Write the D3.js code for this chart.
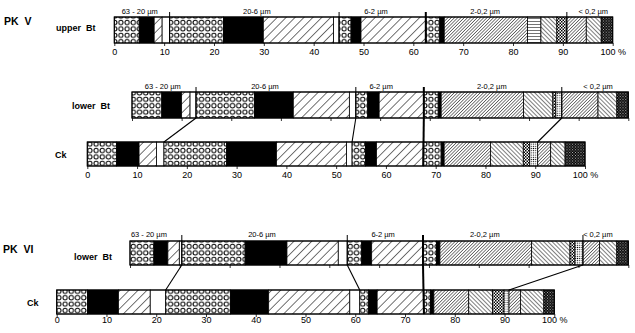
<!DOCTYPE html>
<html>
<head>
<meta charset="utf-8">
<script src="https://d3js.org/d3.v7.min.js"></script>
<style>
body { margin: 0; background: #fff; }
text { font-family: "Liberation Sans", Arial, sans-serif; white-space: pre; }
</style>
</head>
<body>
<script>
// size fractions shown above the bars
const fractions = ["63 - 20 µm", "20-6 µm", "6-2 µm", "2-0,2 µm", "< 0,2 µm"];
// indices of the segments that close a fraction
const fractionEnds = [3, 7, 10, 16];
const tickValues = [0, 10, 20, 30, 40, 50, 60, 70, 80, 90, 100];

// fill of each segment, left to right
const fillsUpperBt = ["circles", "black", "sparse", "white", "circles", "black", "sparse", "white",
    "circles", "black", "sparse", "circles", "black", "dense", "horiz", "back", "checker", "dense", "back", "cross"];
const fillsOther = ["circles", "black", "sparse", "white", "circles", "black", "sparse", "white",
    "circles", "black", "sparse", "circles", "black", "dense", "back", "checker", "dots", "dense", "back", "cross"];

// cumulative % at the right end of every segment
const pkVUpperBt = [5, 8, 9.6, 11.1, 21.9, 29.9, 44, 45.1, 47.5, 49.5, 62.5, 65.3, 66.2, 82.9, 85.6, 88.8, 90.8, 94.7, 97.7, 100];
const pkVLowerBt = [6, 10, 11.7, 12.9, 24.7, 32.5, 43.8, 45.1, 47.5, 49.8, 58.8, 61.7, 62.3, 78.9, 84.8, 85.4, 86.6, 93.9, 97.7, 100];
const pkVCk = [5.9, 10.4, 13.9, 15.4, 28, 38, 52.1, 53.2, 55.9, 58.1, 67.5, 71.1, 71.7, 81, 87.6, 88.9, 90.5, 93.1, 96, 100];
const pkVILowerBt = [4.8, 7.6, 9.9, 10.4, 23.1, 31.5, 41.8, 43.6, 46.5, 48.5, 58.8, 61.5, 62.2, 80.6, 88.3, 89.3, 90.9, 94.2, 97.7, 100];
const pkVICk = [6.2, 12.4, 18.8, 21.9, 34.9, 42.6, 58.9, 60.9, 62.7, 64.4, 73.8, 75.1, 75.8, 82.8, 87.6, 89.9, 90.9, 93.2, 97.9, 100];

let width = 635, height = 333;
let svg = d3.select("body").append("svg").attr("width", width).attr("height", height);
let defs = svg.append("defs");

function hatch(id, size, angle, sw) {
    let p = defs.append("pattern").attr("id", id).attr("patternUnits", "userSpaceOnUse")
        .attr("width", size).attr("height", size).attr("patternTransform", "rotate(" + angle + ")");
    p.append("rect").attr("width", size).attr("height", size).attr("fill", "#fff");
    p.append("line").attr("x1", 0).attr("y1", 0).attr("x2", 0).attr("y2", size)
        .attr("stroke", "#000").attr("stroke-width", sw);
}
hatch("sparse", 6.3, 45, 1.1);
hatch("dense", 2.3, 45, 1);
hatch("back", 3, -45, 1);
hatch("horiz", 3, 90, 1.1);

let pc = defs.append("pattern").attr("id", "circles").attr("patternUnits", "userSpaceOnUse")
    .attr("width", 6.2).attr("height", 6.4);
pc.append("rect").attr("width", 6.2).attr("height", 6.4).attr("fill", "#fff");
pc.append("circle").attr("cx", 3.1).attr("cy", 3.3).attr("r", 2.2)
    .attr("fill", "none").attr("stroke", "#000").attr("stroke-width", 1);

let pk = defs.append("pattern").attr("id", "checker").attr("patternUnits", "userSpaceOnUse")
    .attr("width", 3).attr("height", 3);
pk.append("rect").attr("width", 3).attr("height", 3).attr("fill", "#fff");
pk.append("rect").attr("width", 1.5).attr("height", 1.5).attr("fill", "#000");
pk.append("rect").attr("x", 1.5).attr("y", 1.5).attr("width", 1.5).attr("height", 1.5).attr("fill", "#000");

let pd = defs.append("pattern").attr("id", "dots").attr("patternUnits", "userSpaceOnUse")
    .attr("width", 2.2).attr("height", 2.2);
pd.append("rect").attr("width", 2.2).attr("height", 2.2).attr("fill", "#fff");
pd.append("circle").attr("cx", 1.1).attr("cy", 1.1).attr("r", 0.6).attr("fill", "#000");

let px = defs.append("pattern").attr("id", "cross").attr("patternUnits", "userSpaceOnUse")
    .attr("width", 2.8).attr("height", 2.8);
px.append("rect").attr("width", 2.8).attr("height", 2.8).attr("fill", "#fff");
px.append("circle").attr("cx", 1.4).attr("cy", 1.4).attr("r", 1)
    .attr("fill", "none").attr("stroke", "#000").attr("stroke-width", 1);

function fillOf(f) {
    if (f == "black") return "#000";
    if (f == "white") return "#fff";
    return "url(#" + f + ")";
}

// draws one bar; returns its scale and geometry
function drawBar(ends, fills, pos) {
    let x = d3.scaleLinear().domain([0, 100]).range([pos.x0, pos.x1]);
    let segs = ends.map((e, i) => ({start: i ? ends[i - 1] : 0, end: e, fill: fills[i]}));
    let g = svg.append("g");
    g.selectAll("rect").data(segs).enter().append("rect")
        .attr("x", d => x(d.start))
        .attr("y", pos.y)
        .attr("width", d => x(d.end) - x(d.start))
        .attr("height", pos.h)
        .attr("fill", d => fillOf(d.fill))
        .attr("stroke", "#000")
        .attr("stroke-width", 0.8);
    g.append("rect").attr("x", pos.x0).attr("y", pos.y).attr("width", pos.x1 - pos.x0).attr("height", pos.h)
        .attr("fill", "none").attr("stroke", "#000").attr("stroke-width", 1.1);

    let axis = d3.axisBottom(x).tickValues(tickValues).tickSize(3).tickPadding(pos.pad == null ? 3 : pos.pad)
        .tickFormat(d => pos.labels ? (d == 100 ? "100 %" : d) : "");
    let ag = svg.append("g").attr("transform", "translate(0," + (pos.y + pos.h) + ")").call(axis);
    ag.select(".domain").remove();
    ag.selectAll("line").attr("stroke", "#000").attr("stroke-width", 0.8);
    ag.selectAll("text").attr("font-size", 9).attr("fill", "#000")
        .attr("font-family", "'Liberation Sans', Arial, sans-serif");

    if (pos.headers) {
        svg.append("g").selectAll("text").data(fractions).enter().append("text")
            .attr("x", (d, i) => x(pos.headers[i]))
            .attr("y", pos.headerY)
            .attr("text-anchor", "middle")
            .attr("font-size", 7.5)
            .text(d => d);
        // fraction borders rising above the bar
        svg.append("g").selectAll("line").data(fractionEnds).enter().append("line")
            .attr("x1", i => x(ends[i])).attr("x2", i => x(ends[i]))
            .attr("y1", pos.y - pos.rise).attr("y2", pos.y + pos.h)
            .attr("stroke", "#000")
            .attr("stroke-width", (i, k) => k == 2 ? 2 : 1);
    }
    return {x: x, ends: ends, pos: pos};
}

// fraction borders of the lower Bt joined to those of the Ck
function connect(a, b) {
    svg.append("g").selectAll("path").data(fractionEnds).enter().append("path")
        .attr("d", (i, k) => {
            let xa = a.x(a.ends[i]), xb = b.x(b.ends[i]);
            let ya = a.pos.y + a.pos.h, yb = b.pos.y;
            if (k == 2) return "M" + xa + "," + ya + "L" + xb + "," + (yb + b.pos.h);
            return "M" + xa + "," + ya + "L" + xb + "," + yb;
        })
        .attr("fill", "none")
        .attr("stroke", "#000")
        .attr("stroke-width", (i, k) => k == 2 ? 2 : 1.1);
}

let b1 = drawBar(pkVUpperBt, fillsUpperBt, {x0: 114.3, x1: 612.7, y: 17, h: 26, labels: true,
    headers: [5.1, 28.6, 52.5, 74.4, 96.1], headerY: 14, rise: 5});
let b2 = drawBar(pkVLowerBt, fillsOther, {x0: 132, x1: 628.3, y: 92, h: 26, labels: false,
    headers: [6.2, 26.8, 50.2, 72.5, 93.9], headerY: 89, rise: 5});
let b3 = drawBar(pkVCk, fillsOther, {x0: 87.3, x1: 585, y: 142, h: 24, labels: true});
let b4 = drawBar(pkVILowerBt, fillsOther, {x0: 130, x1: 628.3, y: 241, h: 24, labels: false,
    headers: [3.8, 26.5, 50.8, 71.2, 93.9], headerY: 237, rise: 6});
let b5 = drawBar(pkVICk, fillsOther, {x0: 56.7, x1: 554.3, y: 290, h: 24, labels: true, pad: 0});
connect(b2, b3);
connect(b4, b5);

// row titles
let titles = [
    {t: "PK  V", x: 4, y: 25, s: 10.5},
    {t: "upper  Bt", x: 56, y: 31, s: 9},
    {t: "lower  Bt", x: 72, y: 109, s: 9},
    {t: "Ck", x: 55, y: 158, s: 9},
    {t: "PK  VI", x: 3, y: 253, s: 10.5},
    {t: "lower  Bt", x: 74, y: 260, s: 9},
    {t: "Ck", x: 27, y: 306, s: 9}
];
svg.append("g").selectAll("text").data(titles).enter().append("text")
    .attr("x", d => d.x).attr("y", d => d.y)
    .attr("font-size", d => d.s)
    .attr("font-weight", "bold")
    .text(d => d.t);
</script>
</body>
</html>
